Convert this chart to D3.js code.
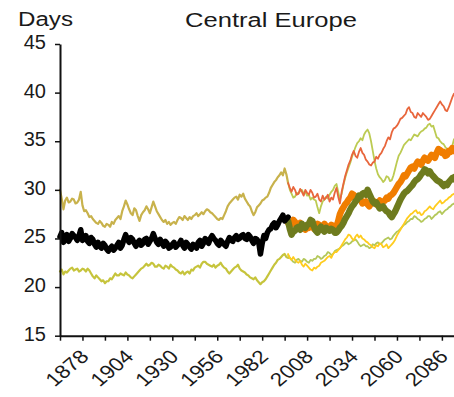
<!DOCTYPE html>
<html>
<head>
<meta charset="utf-8">
<script src="https://cdn.jsdelivr.net/npm/d3@7"></script>
<style>
  html, body { margin: 0; padding: 0; background: #fff; }
  svg { display: block; }
  text { font-family: "Liberation Sans", Arial, Helvetica, sans-serif; fill: #1a1a1a; }
</style>
</head>
<body>
<svg id="chart" width="454" height="397"></svg>
<script>
// Frost-free season length, Central Europe: observed record (annual) and two projection scenarios
const histStart = 1865;
const projStart = 1997;

const yTicks = [15, 20, 25, 30, 35, 40, 45];
const xTicks = d3.range(1865, 2100, 13);
const xLabelled = [1878, 1904, 1930, 1956, 1982, 2008, 2034, 2060, 2086];

// observed mean and its spread, 1865-1997
const histMean = [25.2, 25.6, 24.6, 24.9, 25.4, 24.7, 25.0, 25.5, 25.3, 25.1, 24.8, 25.3, 25.9, 24.8, 25.0, 25.3,
  24.7, 24.5, 25.1, 24.9, 24.4, 24.1, 24.6, 24.2, 24.0, 24.5, 24.3, 23.9, 23.7, 24.0, 24.2, 23.8, 24.0, 24.3, 24.6,
  24.0, 24.3, 24.9, 25.4, 24.9, 24.6, 25.1, 24.9, 24.5, 24.2, 24.6, 24.8, 24.3, 24.5, 24.9, 25.0, 24.4, 24.7, 25.0,
  25.5, 25.0, 24.6, 24.4, 24.9, 24.6, 24.2, 24.7, 24.5, 24.0, 24.1, 24.4, 24.6, 24.1, 24.3, 24.5, 24.8, 24.3, 24.0,
  24.6, 24.4, 24.1, 23.9, 24.4, 24.3, 24.0, 24.6, 24.8, 24.2, 24.5, 25.0, 24.8, 24.5, 25.0, 25.3, 25.0, 24.8, 24.5,
  24.3, 24.8, 24.6, 24.4, 24.2, 24.7, 25.1, 24.8, 24.7, 25.1, 25.3, 24.9, 25.0, 25.3, 25.4, 25.0, 24.9, 25.4, 25.2,
  24.8, 24.5, 25.0, 24.9, 24.6, 23.4, 24.5, 25.3, 25.0, 25.6, 25.9, 26.0, 26.4, 26.6, 26.1, 26.4, 26.8, 27.1, 27.4,
  26.8, 27.0, 27.2];
const histUpper = [30.0, 29.1, 28.0, 28.9, 29.2, 28.7, 28.8, 29.1, 29.0, 28.6, 28.7, 29.0, 29.8, 28.4, 27.8, 27.9,
  27.6, 27.2, 27.3, 27.0, 26.8, 26.6, 26.5, 26.8, 26.6, 26.3, 26.2, 26.5, 26.4, 26.2, 26.7, 26.5, 26.9, 27.1, 27.3,
  27.0, 27.8, 28.3, 28.9, 28.5, 28.0, 27.6, 27.4, 28.1, 27.9, 27.3, 26.8, 27.4, 27.7, 27.9, 28.3, 28.0, 27.6, 28.2,
  28.8, 28.3, 27.8, 27.5, 27.2, 26.9, 26.7, 26.9, 26.5, 26.7, 26.4, 26.6, 26.7, 26.5, 26.9, 27.2, 27.1, 26.9, 27.3,
  27.1, 26.9, 27.2, 27.0, 27.3, 27.4, 27.6, 27.3, 27.5, 27.7, 27.5, 27.8, 28.0, 27.9, 27.7, 27.6, 27.4, 27.2, 27.0,
  26.9, 27.1, 27.0, 27.4, 27.8, 28.3, 28.6, 28.8, 29.0, 29.2, 29.3, 29.0, 29.5, 29.3, 29.6, 29.1, 28.8, 28.5, 28.3,
  27.8, 27.4, 27.7, 28.2, 28.4, 28.6, 28.9, 29.0, 29.2, 29.3, 29.7, 30.2, 30.5, 30.8, 31.0, 31.3, 31.5, 31.8, 31.5,
  32.2, 31.6, 30.7];
const histLower = [21.6, 21.8, 21.3, 21.6, 21.5, 21.7, 21.9, 22.0, 21.7, 21.8, 21.9, 21.6, 21.7, 21.9, 21.8, 21.6,
  21.9, 21.7, 21.4, 21.1, 20.9, 21.2, 21.0, 20.8, 20.6, 20.7, 20.4, 20.6, 20.6, 20.9, 20.8, 21.1, 21.4, 21.2, 21.2,
  21.4, 21.3, 21.2, 21.5, 21.3, 21.2, 21.0, 20.9, 21.1, 21.3, 21.5, 21.7, 21.9, 22.0, 22.2, 22.4, 22.2, 22.3, 22.5,
  22.4, 22.1, 22.1, 22.3, 22.2, 22.0, 21.9, 22.2, 22.1, 21.9, 22.3, 22.1, 22.0, 21.8, 21.7, 21.5, 21.4, 21.6, 21.3,
  21.5, 21.6, 21.4, 21.8, 21.7, 22.0, 22.1, 22.2, 22.0, 22.4, 22.6, 22.6, 22.4, 22.3, 22.2, 22.1, 22.3, 22.0, 22.2,
  22.3, 22.5, 22.2, 22.0, 21.9, 21.6, 21.4, 21.6, 21.8, 22.0, 22.1, 22.3, 21.9, 21.7, 21.6, 21.5, 21.3, 21.2, 21.0,
  20.9, 20.8, 21.0, 20.7, 20.5, 20.3, 20.5, 20.6, 20.8, 21.1, 21.4, 21.7, 22.0, 22.3, 22.5, 22.8, 22.9, 23.1, 23.3,
  23.4, 23.1, 23.0];

// high-emission scenario, 1997-2095
const highMean = [26.6, 26.3, 26.5, 26.9, 26.7, 26.3, 26.4, 26.6, 26.2, 26.0, 25.9, 26.3, 26.1, 26.5, 26.3, 26.0,
  26.2, 26.5, 26.4, 26.1, 26.2, 26.5, 26.3, 26.0, 26.1, 26.4, 26.3, 26.0, 26.2, 26.8, 27.5, 27.9, 28.2, 28.5, 28.7,
  29.0, 29.2, 29.6, 29.5, 29.1, 29.3, 29.0, 29.0, 28.6, 28.7, 28.8, 28.5, 28.3, 28.6, 28.9, 28.8, 28.5, 28.7, 28.9,
  28.6, 28.8, 28.9, 29.2, 29.1, 29.4, 29.5, 29.7, 30.0, 30.3, 30.6, 30.8, 31.1, 31.5, 31.4, 31.7, 32.0, 32.3, 32.4,
  32.2, 32.6, 32.9, 32.8, 32.6, 33.0, 33.3, 33.1, 33.0, 33.3, 33.6, 33.5, 33.3, 33.8, 34.2, 34.1, 33.8, 33.9, 33.5,
  33.6, 34.0, 33.9, 34.3, 34.2, 33.9, 34.0];
const highUpper = [30.7, 30.2, 29.8, 30.3, 30.0, 29.5, 29.6, 30.1, 29.8, 29.4, 30.0, 29.7, 29.5, 30.0, 29.7, 29.2,
  29.3, 29.6, 29.0, 28.8, 29.4, 29.0, 29.2, 29.5, 28.8, 29.2, 29.0, 29.7, 30.2, 29.3, 28.6, 29.8, 30.6, 31.4, 32.0,
  32.6, 33.0, 33.6, 34.0, 33.5, 33.3, 33.9, 34.3, 33.8, 33.6, 33.1, 32.9, 32.6, 32.5, 32.8, 32.9, 33.4, 33.2, 33.6,
  33.8, 34.2, 34.5, 35.0, 35.4, 35.2, 35.9, 36.3, 36.4, 36.6, 36.9, 37.3, 37.4, 37.6, 37.8, 38.3, 38.5, 38.0, 37.9,
  37.5, 37.4, 37.9, 37.7, 37.5, 37.9, 37.7, 37.5, 37.2, 37.3, 37.6, 37.9, 38.2, 38.5, 38.8, 39.1, 38.8, 38.6, 38.2,
  38.1, 38.5, 39.0, 39.5, 39.9, 39.5, 39.4];
const highLower = [23.4, 23.0, 22.8, 23.1, 22.8, 22.6, 22.5, 22.7, 22.3, 22.1, 22.4, 22.2, 22.0, 21.8, 21.7, 22.0,
  21.9, 22.1, 22.2, 22.5, 22.6, 22.7, 22.9, 23.1, 23.2, 23.0, 23.4, 23.6, 23.6, 23.8, 24.0, 24.3, 24.6, 24.9, 25.1,
  25.4, 25.3, 25.0, 24.8, 25.2, 25.4, 25.1, 25.3, 25.0, 24.9, 24.7, 24.6, 24.4, 24.3, 24.1, 24.0, 24.3, 24.2, 24.5,
  24.4, 24.1, 24.2, 24.4, 24.0, 24.2, 24.4, 24.6, 24.9, 25.3, 25.6, 25.9, 26.2, 26.5, 26.8, 27.1, 27.3, 27.5, 27.6,
  27.8, 27.9, 27.6, 27.7, 27.4, 27.5, 27.8, 27.9, 28.1, 28.3, 28.1, 28.0, 28.3, 28.5, 28.7, 28.9, 28.6, 28.7, 28.9,
  29.0, 29.2, 29.3, 29.5, 29.6, 29.3, 29.4];

// low-emission scenario, 1997-2095
const lowMean = [26.8, 26.0, 25.4, 25.7, 25.8, 26.1, 26.2, 25.9, 26.5, 26.3, 26.1, 26.4, 26.5, 26.9, 26.8, 26.2,
  25.8, 25.6, 26.0, 26.2, 25.9, 25.7, 26.1, 25.9, 25.8, 26.0, 25.9, 25.6, 25.6, 25.8, 26.1, 26.3, 26.6, 27.0, 27.3,
  27.6, 28.0, 28.3, 28.5, 28.8, 29.0, 29.4, 29.3, 29.6, 29.7, 29.5, 30.0, 29.6, 29.2, 28.8, 28.6, 28.7, 28.4, 28.1,
  28.2, 28.3, 28.0, 27.8, 27.7, 27.4, 27.2, 27.5, 27.8, 28.2, 28.6, 29.0, 29.3, 29.6, 29.8, 29.9, 30.1, 30.3, 30.5,
  30.8, 31.0, 31.1, 31.3, 31.6, 31.8, 32.1, 32.0, 31.7, 31.9, 31.6, 31.4, 31.2, 31.0, 30.9, 30.8, 30.6, 30.4, 30.6,
  30.5, 30.8, 31.0, 31.2, 31.3, 31.0, 31.2];
const lowUpper = [30.7, 30.0, 29.6, 29.2, 29.3, 29.7, 29.6, 29.9, 30.0, 29.6, 29.8, 29.4, 29.5, 29.0, 29.2, 29.0,
  28.9, 28.2, 27.6, 28.3, 28.8, 29.0, 29.3, 29.1, 29.5, 29.8, 30.0, 30.4, 30.6, 29.8, 29.0, 29.6, 30.5, 31.2, 31.8,
  32.3, 32.8, 33.4, 33.9, 34.4, 34.8, 35.0, 35.3, 35.1, 35.7, 36.0, 36.2, 35.8, 35.0, 34.0, 33.0, 32.2, 31.6, 31.3,
  31.1, 30.8, 31.0, 31.4, 31.3, 30.9, 31.0, 31.5, 32.2, 32.9, 33.5, 33.8, 34.2, 34.6, 34.8, 35.0, 35.2, 35.1, 35.4,
  35.7, 35.6, 35.5, 35.8, 36.0, 36.1, 36.3, 36.4, 36.7, 36.8, 36.5, 36.6, 36.0, 35.4, 35.3, 35.0, 34.8, 34.7, 34.4,
  34.2, 34.0, 33.9, 34.5, 35.2, 35.4, 35.6];
const lowLower = [23.3, 23.0, 22.8, 22.6, 22.5, 22.8, 22.9, 22.7, 22.6, 22.9, 22.8, 22.6, 22.5, 22.8, 22.7, 22.9,
  22.9, 23.2, 23.1, 22.9, 23.0, 23.2, 23.3, 23.6, 23.5, 23.3, 23.4, 23.7, 23.8, 23.9, 24.0, 24.2, 24.3, 24.5, 24.6,
  24.4, 24.5, 24.7, 24.8, 24.9, 24.7, 24.4, 24.2, 24.3, 24.4, 24.2, 24.2, 24.0, 24.1, 24.4, 24.3, 24.5, 24.6, 24.4,
  24.5, 24.7, 24.9, 25.0, 25.1, 24.9, 25.0, 25.3, 25.5, 25.7, 25.8, 26.0, 26.2, 26.4, 26.5, 26.7, 26.8, 27.0, 27.0,
  27.3, 27.2, 27.0, 26.9, 26.7, 26.8, 27.0, 27.1, 27.3, 27.3, 27.0, 27.2, 27.4, 27.5, 27.7, 27.8, 27.5, 27.7, 27.9,
  28.0, 28.2, 28.3, 28.5, 28.6, 28.3, 28.4];

const svg = d3.select("#chart");
const plotLeft = 60, plotTop = 44, plotBottom = 335.7;

const x = d3.scaleLinear().domain([1865, 2100]).range([plotLeft, plotLeft + 235 * 1.728]);
const y = d3.scaleLinear().domain([15, 45]).range([plotBottom, plotTop]);

const plot = svg.append("g");

function drawSeries(start, values, color, width) {
  const line = d3.line()
    .x((d, i) => x(start + i))
    .y(d => y(d));
  plot.append("path")
    .datum(values)
    .attr("d", line)
    .attr("fill", "none")
    .attr("stroke", color)
    .attr("stroke-width", width)
    .attr("stroke-linejoin", "round")
    .attr("stroke-linecap", "round");
}

// spread lines
drawSeries(histStart, histUpper, "#c8b24c", 2.2);
drawSeries(histStart, histLower, "#c6c43c", 2.2);
drawSeries(projStart, lowLower, "#b4c85a", 1.8);
drawSeries(projStart, highLower, "#ffcc1e", 1.8);
drawSeries(projStart, lowUpper, "#bccb52", 1.8);
drawSeries(projStart, highUpper, "#e8663c", 1.8);
// scenario means
drawSeries(projStart, highMean, "#f07d00", 6.5);
drawSeries(projStart, lowMean, "#6e7b1e", 6.5);
// observed mean
drawSeries(histStart, histMean, "#000000", 5.5);

// axes
const yAxis = d3.axisLeft(y).tickValues(yTicks).tickSize(5).tickPadding(9).tickSizeOuter(0);
const gy = svg.append("g").attr("transform", `translate(${plotLeft},0)`).call(yAxis);
gy.select(".domain").attr("stroke", "#111").attr("stroke-width", 2);
gy.selectAll(".tick line").attr("stroke", "#111").attr("stroke-width", 1.5);
gy.selectAll(".tick text")
  .attr("font-size", 20)
  .attr("dy", "0.22em")
  .style("fill", "#1a1a1a");

const xAxis = d3.axisBottom(x).tickValues(xTicks).tickSize(5).tickSizeOuter(0)
  .tickFormat(d => xLabelled.includes(d) ? String(d) : "");
const gx = svg.append("g").attr("transform", `translate(0,${plotBottom})`).call(xAxis);
gx.select(".domain").attr("stroke", "#111").attr("stroke-width", 2);
gx.selectAll(".tick line").attr("stroke", "#111").attr("stroke-width", 1.5);
gx.selectAll(".tick text")
  .attr("font-size", 19)
  .attr("text-anchor", "end")
  .attr("y", 0)
  .attr("dy", 0)
  .attr("transform", "translate(7,22) scale(1.18,1) rotate(-45)")
  .style("fill", "#1a1a1a");

// titles
svg.append("text")
  .attr("x", 185).attr("y", 27)
  .attr("font-size", 20)
  .attr("textLength", 172)
  .attr("lengthAdjust", "spacingAndGlyphs")
  .text("Central Europe");

svg.append("text")
  .attr("x", 18).attr("y", 26)
  .attr("font-size", 20)
  .attr("textLength", 55)
  .attr("lengthAdjust", "spacingAndGlyphs")
  .text("Days");
</script>
</body>
</html>
